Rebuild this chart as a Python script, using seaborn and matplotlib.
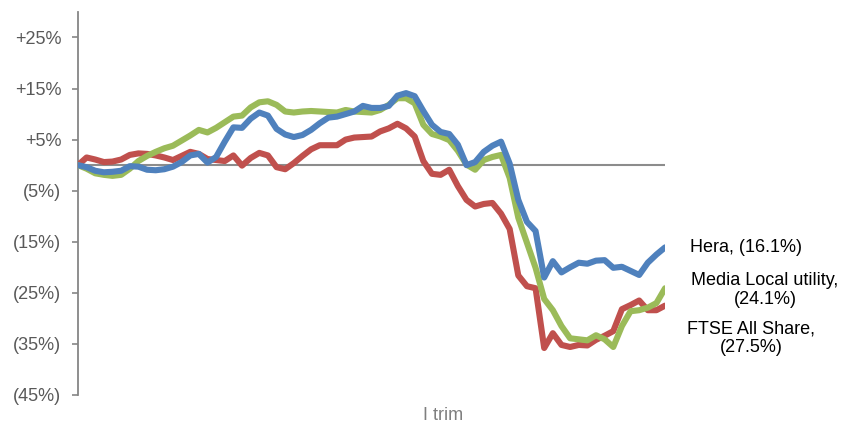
import matplotlib.pyplot as plt
import numpy as np
import pandas as pd
import seaborn as sns

# weekly performance index, % change from start
hera = [0.0, -0.4, -1.1, -1.4, -1.3, -1.1, -0.2, -0.3, -0.9, -1.0,
        -0.8, -0.3, 0.6, 1.9, 2.2, 0.5, 1.6, 4.6, 7.4, 7.3,
        9.1, 10.3, 9.7, 7.1, 6.0, 5.5, 5.9, 6.9, 8.2, 9.3,
        9.5, 10.0, 10.5, 11.6, 11.2, 11.2, 11.6, 13.6, 14.1, 13.5,
        10.6, 7.9, 6.5, 6.1, 4.0, 0.0, 0.6, 2.6, 3.8, 4.6,
        0.3, -6.8, -11.1, -12.9, -22.0, -18.8, -21.0, -20.0, -19.1, -19.3,
        -18.7, -18.6, -20.1, -19.9, -20.7, -21.5, -19.1, -17.5, -16.1]
media = [0.0, -0.7, -1.6, -1.9, -2.1, -1.9, -0.7, 0.8, 1.8, 2.6,
         3.3, 3.8, 4.8, 5.8, 6.9, 6.4, 7.3, 8.4, 9.5, 9.7,
         11.3, 12.3, 12.5, 11.8, 10.5, 10.3, 10.5, 10.6, 10.5, 10.4,
         10.3, 10.8, 10.5, 10.4, 10.3, 10.8, 11.8, 13.1, 13.1, 12.1,
         7.9, 6.1, 5.6, 4.9, 2.8, 0.1, -0.9, 1.0, 1.6, 2.0,
         -2.5, -10.3, -15.2, -20.1, -26.2, -28.4, -31.5, -33.9, -34.1, -34.3,
         -33.3, -34.1, -35.6, -31.5, -28.6, -28.4, -27.9, -27.0, -24.1]
ftse = [0.0, 1.5, 1.1, 0.6, 0.7, 1.1, 2.0, 2.3, 2.2, 1.9,
        1.5, 1.0, 1.8, 2.6, 2.2, 1.2, 1.0, 0.8, 1.9, -0.1,
        1.4, 2.4, 1.9, -0.4, -0.8, 0.4, 1.8, 3.1, 3.9, 3.9,
        3.9, 5.0, 5.4, 5.5, 5.6, 6.6, 7.2, 8.1, 7.2, 5.6,
        0.8, -1.7, -1.9, -0.9, -4.1, -6.8, -8.1, -7.6, -7.4, -9.5,
        -12.5, -21.6, -23.7, -24.1, -35.8, -32.9, -35.2, -35.6, -35.2, -35.3,
        -34.2, -33.4, -32.5, -28.2, -27.4, -26.5, -28.4, -28.4, -27.5]

series_names = ["FTSE All Share", "Media Local utility", "Hera"]
series_colors = ["#C0504D", "#9BBB59", "#4F81BD"]
end_labels = ["FTSE All Share,\n(27.5%)", "Media Local utility,\n(24.1%)", "Hera, (16.1%)"]
yticks = [25, 15, 5, -5, -15, -25, -35, -45]
ytick_labels = ["+25%", "+15%", "+5%", "(5%)", "(15%)", "(25%)", "(35%)", "(45%)"]

weeks = np.arange(len(hera))
df = pd.concat([
    pd.DataFrame({"week": weeks, "value": vals, "series": name})
    for name, vals in zip(series_names, [ftse, media, hera])
])

sns.set_style("white")
plt.rcParams['font.family'] = ['Liberation Sans', 'DejaVu Sans']

fig = plt.figure(figsize=(8.44, 4.25), dpi=100)
ax = fig.add_axes([0.0924, 0.0706, 0.6956, 0.9014])

ax.axhline(0, color="#8c8c8c", lw=1.5, zorder=1)
sns.lineplot(data=df, x="week", y="value", hue="series",
             hue_order=series_names, palette=series_colors,
             lw=4.4, legend=False, ax=ax, zorder=3,
             solid_joinstyle="round", solid_capstyle="round")

ax.set_xlim(0, len(hera) - 1)
ax.set_ylim(-45, 30)
ax.set_yticks(yticks)
ax.set_yticklabels(ytick_labels)
ax.set_xticks([])
ax.set_xlabel("")
ax.set_ylabel("")
ax.tick_params(axis="y", left=True, length=4, width=1.2, color="#868686",
               pad=8, labelsize=13, labelcolor="#595959")
for side in ["top", "right", "bottom"]:
    ax.spines[side].set_visible(False)
ax.spines["left"].set_color("#868686")
ax.spines["left"].set_linewidth(1.3)

# end labels
fig.text(690 / 844, 1 - 248 / 425, end_labels[2], fontsize=13, color="black",
         ha="left", va="center")
fig.text(765 / 844, 1 - 290 / 425, end_labels[1], fontsize=13, color="black",
         ha="center", va="center", linespacing=1.1)
fig.text(751 / 844, 1 - 338 / 425, end_labels[0], fontsize=13, color="black",
         ha="center", va="center", linespacing=1.1)

fig.text(443 / 844, 1 - 416 / 425, "I trim", fontsize=13, color="#7f7f7f",
         ha="center", va="center")

fig.savefig("out.png", dpi=100)
